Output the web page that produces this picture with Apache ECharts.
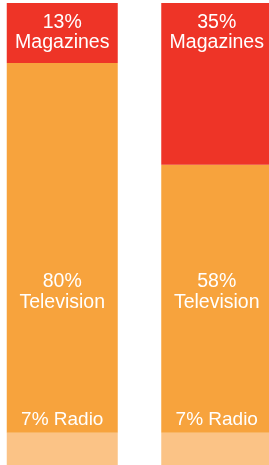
<!DOCTYPE html>
<html><head><meta charset="utf-8">
<script src="https://cdn.jsdelivr.net/npm/echarts@6/dist/echarts.min.js"></script>
<style>html,body{margin:0;padding:0;background:#fff}#c{width:269px;height:465px}</style>
</head><body><div id="c"></div>
<script>
const categories = ['Before', 'After'];
const radio = [7, 7];
const television = [80, 58];
const magazines = [13, 35];
const tvLabelOffset = [44, -6.7];

const font = '"Liberation Sans", Arial, sans-serif';
const chart = echarts.init(document.getElementById('c'));
chart.setOption({
  animation: false,
  grid: { left: -15, right: -25, top: 3, bottom: 0, outerBoundsMode: 'none', containLabel: false },
  xAxis: { type: 'category', data: categories, show: false },
  yAxis: { type: 'value', min: 0, max: 100, show: false },
  series: [
    { name: 'Radio', type: 'bar', stack: 's', barWidth: 111, data: radio,
      itemStyle: { color: '#FBC386' },
      label: { show: true, position: 'top', distance: 2.6, color: '#fff', fontFamily: font, fontSize: 19, lineHeight: 20,
        formatter: p => p.value + '% Radio' } },
    { name: 'Television', type: 'bar', stack: 's', barWidth: 111,
      data: television.map((v, i) => ({ value: v, label: { offset: [0, tvLabelOffset[i]] } })),
      itemStyle: { color: '#F7A33D' },
      label: { show: true, position: 'inside', color: '#fff', fontFamily: font, fontSize: 19.5, lineHeight: 21,
        formatter: p => p.value + '%\nTelevision' } },
    { name: 'Magazines', type: 'bar', stack: 's', barWidth: 111, data: magazines,
      itemStyle: { color: '#EE3427' },
      label: { show: true, position: 'insideTop', distance: 9.5, color: '#fff', fontFamily: font, fontSize: 19.5, lineHeight: 20,
        formatter: p => p.value + '%\nMagazines' } }
  ]
});
</script></body></html>
